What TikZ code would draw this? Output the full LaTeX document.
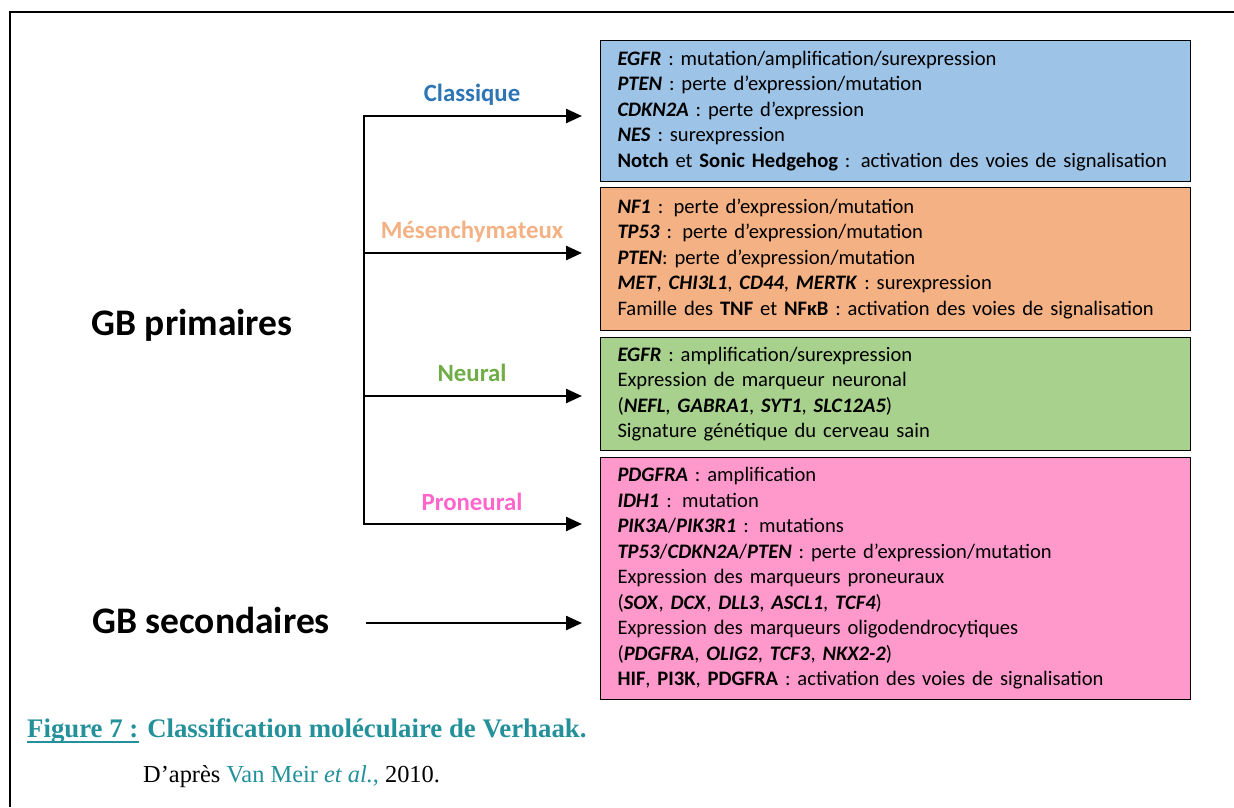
\documentclass[tikz,border=0pt]{standalone}
\usepackage{fontspec}
\setmainfont{Carlito}
\newfontfamily\capfont{Liberation Serif}
\usetikzlibrary{arrows.meta}
\definecolor{bluebox}{HTML}{9DC3E6}
\definecolor{orangebox}{HTML}{F4B183}
\definecolor{greenbox}{HTML}{A9D18E}
\definecolor{pinkbox}{HTML}{FF99CC}
\definecolor{bluelab}{HTML}{2E75B6}
\definecolor{orangelab}{HTML}{F4B183}
\definecolor{greenlab}{HTML}{70AD47}
\definecolor{pinklab}{HTML}{FF66CC}
\definecolor{teal}{HTML}{23909A}
\newcommand\gi[1]{\textbf{\textit{#1}}}
\begin{document}
\begin{tikzpicture}[x=1pt,y=-1pt,
  infobox/.style={draw=black, line width=1pt, anchor=north west, text width=556pt,
    inner xsep=17pt, inner ysep=0pt, align=left, minimum width=590pt,
    font=\fontsize{20.6}{25.5}\selectfont},
  sublabel/.style={font=\fontsize{24.8}{28}\selectfont\bfseries},
  biglabel/.style={font=\fontsize{37.5}{40}\selectfont\bfseries},
  conn/.style={line width=2.4pt, -{Triangle[length=16pt,width=14pt]}},
  trunk/.style={line width=2.4pt}]
\useasboundingbox (0,0) rectangle (1234,807);
\fill[white] (0,0) rectangle (1234,807);
\draw[line width=2.4pt] (10,807) -- (10,12) -- (1234,12);

\node[infobox, fill=bluebox, minimum height=141pt] (cl) at (600,40) {%
\gi{EGFR} : mutation/amplification/surexpression\\
\gi{PTEN} : perte d’expression/mutation\\
\gi{CDKN2A} : perte d’expression\\
\gi{NES} : surexpression\\
\textbf{Notch} et \textbf{Sonic Hedgehog} : activation des voies de signalisation};

\node[infobox, fill=orangebox, minimum height=143pt] (me) at (600,187) {%
\gi{NF1} : perte d’expression/mutation\\
\gi{TP53} : perte d’expression/mutation\\
\gi{PTEN}: perte d’expression/mutation\\
\gi{MET}, \gi{CHI3L1}, \gi{CD44}, \gi{MERTK} : surexpression\\
Famille des \textbf{TNF} et \textbf{NFκB} : activation des voies de signalisation};

\node[infobox, fill=greenbox, minimum height=113pt] (ne) at (600,337) {%
\gi{EGFR} : amplification/surexpression\\
Expression de marqueur neuronal\\
(\gi{NEFL}, \gi{GABRA1}, \gi{SYT1}, \gi{SLC12A5})\\
Signature génétique du cerveau sain};

\node[infobox, fill=pinkbox, minimum height=242pt] (pr) at (600,457) {%
\gi{PDGFRA} : amplification\\
\gi{IDH1} : mutation\\
\gi{PIK3A}/\gi{PIK3R1} : mutations\\
\gi{TP53}/\gi{CDKN2A}/\gi{PTEN} : perte d’expression/mutation\\
Expression des marqueurs proneuraux\\
(\gi{SOX}, \gi{DCX}, \gi{DLL3}, \gi{ASCL1}, \gi{TCF4})\\
Expression des marqueurs oligodendrocytiques\\
(\gi{PDGFRA}, \gi{OLIG2}, \gi{TCF3}, \gi{NKX2-2})\\
\textbf{HIF}, \textbf{PI3K}, \textbf{PDGFRA} : activation des voies de signalisation};

\node[biglabel] (gbp) at (192,325) {GB primaires};
\node[biglabel] (gbs) at (211,620) {GB secondaires};

\node[sublabel, text=bluelab] (lcl) at (472,95) {Classique};
\node[sublabel, text=orangelab] (lme) at (472,232) {Mésenchymateux};
\node[sublabel, text=greenlab] (lne) at (472,373) {Neural};
\node[sublabel, text=pinklab] (lpr) at (472,502) {Proneural};

\coordinate (t1) at (364,116);
\coordinate (t2) at (364,253);
\coordinate (t3) at (364,396);
\coordinate (t4) at (364,524);
\coordinate (t5) at (366,623);
\coordinate (e1) at (582,116);
\coordinate (e2) at (582,253);
\coordinate (e3) at (582,396);
\coordinate (e4) at (582,524);
\coordinate (e5) at (582,623);

\draw[trunk, line cap=rect] (t1) -- (t4);
\draw[conn] (t1) -- (e1);
\draw[conn] (t2) -- (e2);
\draw[conn] (t3) -- (e3);
\draw[conn] (t4) -- (e4);
\draw[conn] (t5) -- (e5);

\node[anchor=base west, inner sep=0pt, text=teal, font=\capfont\fontsize{26.8}{30}\selectfont\bfseries] (cap) at (27,737) {Figure 7 : Classification moléculaire de Verhaak.};
\node[anchor=base west, inner sep=0pt, font=\capfont\fontsize{26.8}{30}\selectfont\bfseries] (capu) at (27,737) {\phantom{Figure 7 :}};
\draw[teal, line width=2.2pt] ([yshift=-5pt]capu.base west) -- ([yshift=-5pt]capu.base east);
\node[anchor=base west, inner sep=0pt, font=\capfont\fontsize{24.4}{28}\selectfont] (src) at (143,782) {D’après \textcolor{teal}{Van Meir \textit{et al.},} 2010.};
\end{tikzpicture}
\end{document}
